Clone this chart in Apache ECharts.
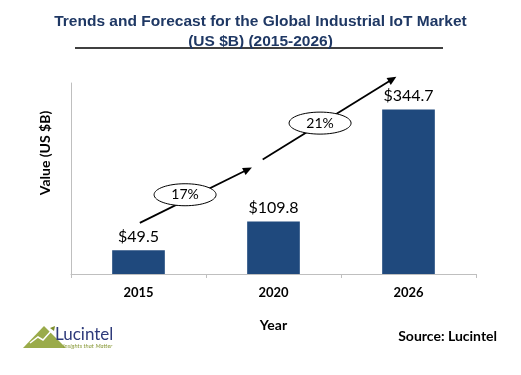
<!DOCTYPE html>
<html>
<head>
<meta charset="utf-8">
<script src="https://cdn.jsdelivr.net/npm/echarts@6/dist/echarts.min.js"></script>
<style>html,body{margin:0;padding:0;background:#fff}#c{width:521px;height:375px}</style>
</head>
<body>
<div id="c"></div>
<script>
const categories = ['2015', '2020', '2026'];
const values = [49.5, 109.8, 344.7];
const growthLabels = ['17%', '21%'];
// growth arrows: [startIdx, startVal, endIdx, endVal], bubble: [idx, val]
const arrowA = [0.01, 107, 0.84, 223];
const arrowB = [0.92, 240, 1.91, 413];
const bubbleA = [0.345, 166];
const bubbleB = [1.345, 316];

const FONT = 'Lato, "Open Sans", sans-serif';
const chart = echarts.init(document.getElementById('c'), null, {renderer: 'canvas'});

const option = {
  animation: false,
  backgroundColor: '#fff',
  title: {
    text: 'Trends and Forecast for the Global Industrial IoT Market\n(US $B) (2015-2026)',
    left: 'center', top: 7,
    textStyle: {fontFamily: '"Liberation Sans", Arial, sans-serif', fontSize: 15.5, fontWeight: 'bold', color: '#1F3864', lineHeight: 20}
  },
  grid: {left: 71, right: 45, top: 83, bottom: 101},
  xAxis: [{
    type: 'category', data: categories,
    axisLine: {lineStyle: {color: '#bfbfbf', width: 1}},
    axisTick: {show: true, length: 4, lineStyle: {color: '#bfbfbf'}},
    axisLabel: {fontFamily: FONT, fontSize: 13, fontWeight: 'bold', color: '#000', margin: 12},
    name: 'Year', nameLocation: 'middle', nameGap: 44,
    nameTextStyle: {fontFamily: FONT, fontSize: 14, fontWeight: 'bold', color: '#000'}
  }, {
    type: 'value', min: -0.5, max: 2.5, show: false
  }],
  yAxis: {
    type: 'value', min: 0, max: 400, interval: 50,
    axisLine: {show: true, onZero: false, lineStyle: {color: '#bfbfbf', width: 1}},
    axisTick: {show: false}, axisLabel: {show: false}, splitLine: {show: false}
  },
  series: [{
    type: 'bar', data: values, barWidth: '39%', xAxisIndex: 0,
    itemStyle: {color: '#1F497D'},
    label: {show: true, position: 'top', distance: 6, formatter: p => '$' + p.value,
      fontFamily: FONT, fontSize: 16, color: '#000'}
  }]
};
chart.setOption(option);

function px(p) { return chart.convertToPixel({xAxisIndex: 1, yAxisIndex: 0}, p); }
const graphics = [];
[arrowA, arrowB].forEach(a => {
  const s = px([a[0], a[1]]), e = px([a[2], a[3]]);
  const dx = e[0] - s[0], dy = e[1] - s[1], L = Math.hypot(dx, dy);
  const ux = dx / L, uy = dy / L, hl = 9, hw = 4;
  const bx = e[0] - ux * hl, by = e[1] - uy * hl;
  graphics.push({type: 'line', z: 50, shape: {x1: s[0], y1: s[1], x2: bx + ux * 1, y2: by + uy * 1},
    style: {stroke: '#000', lineWidth: 1.8}});
  graphics.push({type: 'polygon', z: 50, shape: {points: [[e[0], e[1]], [bx - uy * hw, by + ux * hw], [bx + uy * hw, by - ux * hw]]},
    style: {fill: '#000'}});
});
[bubbleA, bubbleB].forEach((b, i) => {
  const c = px(b);
  graphics.push({type: 'ellipse', z: 100, shape: {cx: c[0], cy: c[1], rx: 31, ry: 11},
    style: {fill: '#fff', stroke: '#000', lineWidth: 1}});
  graphics.push({type: 'text', z: 101, x: c[0], y: c[1],
    style: {text: growthLabels[i], fontFamily: FONT, fontSize: 14, fill: '#000', align: 'center', verticalAlign: 'middle'}});
});
// title underline
graphics.push({type: 'line', shape: {x1: 75, y1: 48, x2: 443, y2: 48}, style: {stroke: '#000', lineWidth: 1.5}});
// y axis name
graphics.push({type: 'text', x: 45, y: 153, rotation: Math.PI / 2,
  style: {text: 'Value (US $B)', fontFamily: FONT, fontSize: 14, fontWeight: 'bold', fill: '#000', align: 'center', verticalAlign: 'middle'}});
// source
graphics.push({type: 'text', right: 24, top: 329,
  style: {text: 'Source: Lucintel', fontFamily: FONT, fontSize: 14, fontWeight: 'bold', fill: '#000'}});
// logo
graphics.push({type: 'polygon', shape: {points: [[23, 348], [44, 326], [66, 348]]}, style: {fill: '#9aab4a'}});
graphics.push({type: 'polyline', shape: {points: [[30, 343], [38, 337], [43, 340], [52, 330]]}, style: {stroke: '#fff', lineWidth: 1.5, fill: null}});
graphics.push({type: 'polygon', shape: {points: [[50, 328], [55, 326], [54, 331]]}, style: {fill: '#7e8f2e'}});
graphics.push({type: 'text', x: 55, y: 326,
  style: {text: 'Lucintel', fontFamily: FONT, fontSize: 17, fill: '#2e3a7a'}});
graphics.push({type: 'text', x: 63, y: 343,
  style: {text: 'Insights that Matter', fontFamily: FONT, fontSize: 6, fontStyle: 'italic', fill: '#8a9a3a'}});
chart.setOption({graphic: graphics});
</script>
</body>
</html>
